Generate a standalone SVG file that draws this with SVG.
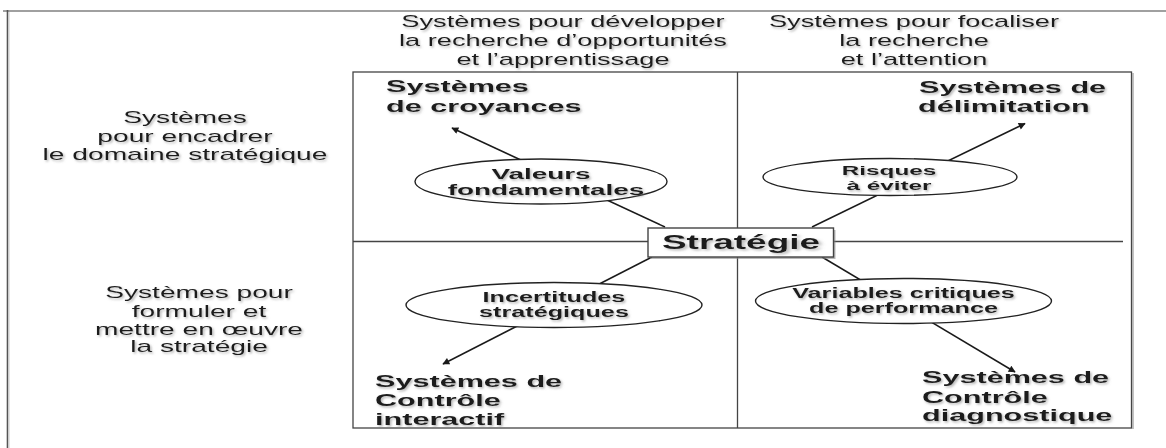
<svg xmlns="http://www.w3.org/2000/svg" width="1166" height="448" viewBox="0 0 1166 448">
<defs>
<style>
.r{font-family:"Liberation Sans",Arial,sans-serif;font-size:16px;fill:#1e1e1e;text-anchor:middle}
.b{font-family:"Liberation Sans",Arial,sans-serif;font-weight:bold;font-size:17px;fill:#1e1e1e}
.e{font-family:"Liberation Sans",Arial,sans-serif;font-weight:bold;fill:#1e1e1e;text-anchor:middle}
.conn{stroke:#1a1a1a;stroke-width:1.5;fill:none}
.grid{stroke:#444;stroke-width:1.3;fill:none}
.ell{fill:#fff;stroke:#222;stroke-width:1.4}
</style>
<filter id="sh" x="-10%" y="-30%" width="120%" height="160%">
<feDropShadow dx="1.5" dy="1.5" stdDeviation="1.1" flood-color="#777" flood-opacity="0.55"/>
</filter>
<marker id="ah" viewBox="0 0 10 10" refX="9" refY="5" markerWidth="9" markerHeight="7" markerUnits="userSpaceOnUse" orient="auto">
<path d="M0,0 L10,5 L0,10 z" fill="#1a1a1a"/>
</marker>
</defs>
<rect width="1166" height="448" fill="#fff"/>
<g id="frame">
<line x1="3" y1="11" x2="1166" y2="11" stroke="#a0a0a0" stroke-width="2"/>
<line x1="7.5" y1="10" x2="7.5" y2="448" stroke="#555" stroke-width="1.6"/>
<line x1="9" y1="12" x2="9" y2="448" stroke="#ccc" stroke-width="1"/>
</g>
<g id="grid">
<rect x="353" y="72" width="778.5" height="356" class="grid"/>
<line x1="1133" y1="73" x2="1133" y2="429" stroke="#999" stroke-width="1.2"/>
<line x1="737.5" y1="72" x2="737.5" y2="428" class="grid"/>
<line x1="353" y1="241.5" x2="1123" y2="241.5" class="grid"/>
</g>
<g id="headers" filter="url(#sh)">
<text class="r" transform="translate(563,27) scale(1.7,1)">Systèmes pour développer</text>
<text class="r" transform="translate(563,46) scale(1.7,1)">la recherche d’opportunités</text>
<text class="r" transform="translate(563,65) scale(1.7,1)">et l’apprentissage</text>
<text class="r" transform="translate(914,27) scale(1.7,1)">Systèmes pour focaliser</text>
<text class="r" transform="translate(914,46) scale(1.7,1)">la recherche</text>
<text class="r" transform="translate(914,65) scale(1.7,1)">et l’attention</text>
<text class="r" transform="translate(185,122.7) scale(1.76,1)">Systèmes</text>
<text class="r" transform="translate(185,141.5) scale(1.76,1)">pour encadrer</text>
<text class="r" transform="translate(185,160) scale(1.76,1)">le domaine stratégique</text>
<text class="r" transform="translate(199,298) scale(1.76,1)">Systèmes pour</text>
<text class="r" transform="translate(199,316.5) scale(1.76,1)">formuler et</text>
<text class="r" transform="translate(199,335) scale(1.76,1)">mettre en œuvre</text>
<text class="r" transform="translate(199,352) scale(1.76,1)">la stratégie</text>
</g>
<g id="connectors">
<line x1="665" y1="227" x2="452" y2="128" class="conn" marker-end="url(#ah)"/>
<line x1="812" y1="227" x2="1025" y2="123.5" class="conn" marker-end="url(#ah)"/>
<line x1="652" y1="257" x2="443" y2="364" class="conn" marker-end="url(#ah)"/>
<line x1="822" y1="257" x2="1015" y2="372" class="conn" marker-end="url(#ah)"/>
</g>
<g id="croyances" filter="url(#sh)">
<text class="b" transform="translate(386,92.3) scale(1.8,1)">Systèmes</text>
<text class="b" transform="translate(386,111.7) scale(1.8,1)">de croyances</text>
</g>
<g id="delimitation" filter="url(#sh)">
<text class="b" transform="translate(919,93.3) scale(1.8,1)">Systèmes de</text>
<text class="b" transform="translate(918,111.7) scale(1.8,1)">délimitation</text>
</g>
<g id="interactif" filter="url(#sh)">
<text class="b" transform="translate(375,386.7) scale(1.8,1)">Systèmes de</text>
<text class="b" transform="translate(375,406) scale(1.8,1)">Contrôle</text>
<text class="b" transform="translate(375,425) scale(1.8,1)">interactif</text>
</g>
<g id="diagnostique" filter="url(#sh)">
<text class="b" transform="translate(922,383.3) scale(1.8,1)">Systèmes de</text>
<text class="b" transform="translate(922,402.7) scale(1.8,1)">Contrôle</text>
<text class="b" transform="translate(922,421) scale(1.8,1)">diagnostique</text>
</g>
<g id="valeurs">
<ellipse cx="541" cy="181.5" rx="126" ry="22.5" class="ell"/>
<g filter="url(#sh)">
<text class="e" font-size="15.5" transform="translate(541,179) scale(1.8,1)">Valeurs</text>
<text class="e" font-size="15.5" transform="translate(546,195) scale(1.8,1)">fondamentales</text>
</g>
</g>
<g id="risques">
<ellipse cx="890" cy="177" rx="127" ry="18.5" class="ell"/>
<g filter="url(#sh)">
<text class="e" font-size="13.5" transform="translate(889,175) scale(1.8,1)">Risques</text>
<text class="e" font-size="13.5" transform="translate(889,190) scale(1.8,1)">à éviter</text>
</g>
</g>
<g id="incertitudes">
<ellipse cx="554" cy="305" rx="148" ry="22.5" class="ell"/>
<g filter="url(#sh)">
<text class="e" font-size="14" transform="translate(554,302) scale(1.8,1)">Incertitudes</text>
<text class="e" font-size="14" transform="translate(554,316.5) scale(1.8,1)">stratégiques</text>
</g>
</g>
<g id="variables">
<ellipse cx="903.5" cy="301" rx="148" ry="22.5" class="ell"/>
<g filter="url(#sh)">
<text class="e" font-size="14" transform="translate(903.5,298.3) scale(1.8,1)">Variables critiques</text>
<text class="e" font-size="14" transform="translate(903.5,312.7) scale(1.8,1)">de performance</text>
</g>
</g>
<g id="strategie">
<rect x="650" y="230" width="185.5" height="29" fill="#888" opacity="0.6"/>
<rect x="648" y="228" width="185.5" height="29" fill="#fff" stroke="#444" stroke-width="1.4"/>
<text class="e" font-size="21" filter="url(#sh)" transform="translate(741,248.5) scale(1.76,1)">Stratégie</text>
</g>
</svg>
